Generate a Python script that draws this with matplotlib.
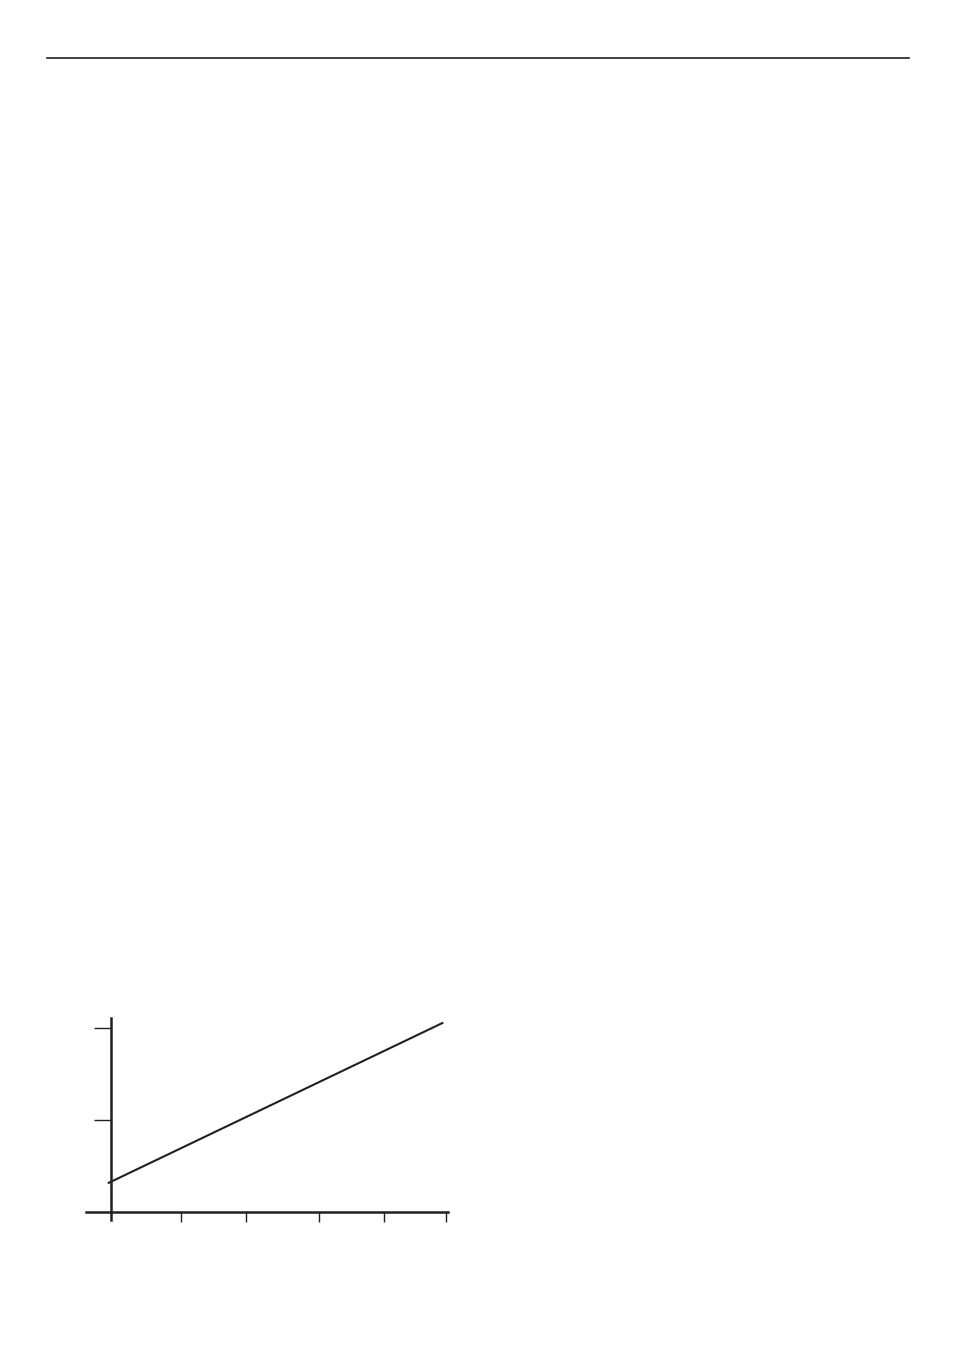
import numpy as np
import matplotlib.pyplot as plt
from matplotlib.lines import Line2D

# straight line
line_x = [-0.045, 4.96]
line_y = [0.31, 2.06]
xticks = [1.05, 2.02, 3.10, 4.07, 5.0]
yticks = [1.0, 2.0]

ink = '#231f20'

fig = plt.figure(figsize=(9.54, 13.5), dpi=100)

# rule across the top of the page
fig.add_artist(Line2D([47/954, 909/954], [1 - 58/1350, 1 - 58/1350],
                      color=ink, lw=1.2))

ax = fig.add_axes([86/954, 130/1350, 362/954, 202/1350])
ax.plot(line_x, line_y, color=ink, lw=1.5, solid_capstyle='butt')
ax.set_xlim(-0.37, 5.03)
ax.set_ylim(-0.09, 2.11)

for s in ['top', 'right']:
    ax.spines[s].set_visible(False)
ax.spines['left'].set_position(('data', 0))
ax.spines['bottom'].set_position(('data', 0))
ax.spines['left'].set_linewidth(1.8)
ax.spines['bottom'].set_linewidth(1.8)
ax.spines['left'].set_color(ink)
ax.spines['bottom'].set_color(ink)

ax.set_xticks(xticks)
ax.set_yticks(yticks)
ax.set_xticklabels([])
ax.set_yticklabels([])
ax.tick_params(axis='x', direction='out', length=7, width=1.0, color=ink)
ax.tick_params(axis='y', direction='out', length=12, width=1.0, color=ink)
ax.patch.set_visible(False)

fig.savefig('out.png', dpi=100)
